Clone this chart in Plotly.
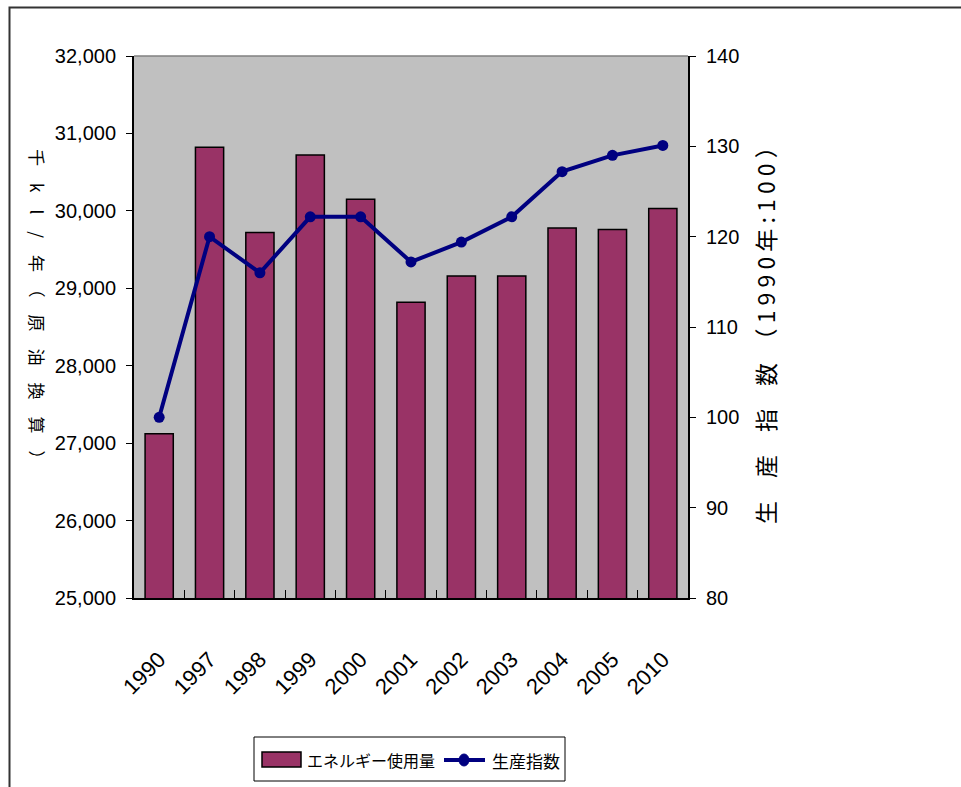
import plotly.graph_objects as go

years = ["1990", "1997", "1998", "1999", "2000", "2001", "2002", "2003", "2004", "2005", "2010"]
energy_use = [27120, 30820, 29720, 30720, 30150, 28820, 29160, 29160, 29780, 29760, 30030]
production_index = [100, 120, 116, 122.2, 122.2, 117.2, 119.4, 122.2, 127.2, 129, 130.1]

left_ticks = [25000, 26000, 27000, 28000, 29000, 30000, 31000, 32000]
right_ticks = [80, 90, 100, 110, 120, 130, 140]

FONT = "Liberation Sans Narrow, Arial Narrow, Liberation Sans, Noto Sans CJK JP, sans-serif"
CJK = "Noto Sans CJK JP, sans-serif"

W, H = 961, 787
L, R, T, B = 134, 688, 56, 598

BAR_COLOR = "#993366"
LINE_COLOR = "#000080"

fig = go.Figure()
fig.add_trace(go.Bar(
    x=years, y=energy_use, name="エネルギー使用量",
    marker=dict(color=BAR_COLOR, line=dict(color="#000000", width=1.5)),
    yaxis="y", showlegend=False,
))
fig.add_trace(go.Scatter(
    x=years, y=production_index, name="生産指数", mode="lines+markers",
    line=dict(color=LINE_COLOR, width=4),
    marker=dict(color=LINE_COLOR, size=11, symbol="circle"),
    yaxis="y2", showlegend=False,
))

pw = R - L
ph = B - T

def px(x):
    return (x - L) / pw

def py(y):
    return (B - y) / ph

fig.update_layout(
    width=W, height=H,
    margin=dict(l=L, r=W - R, t=T, b=H - B, pad=0),
    paper_bgcolor="white",
    plot_bgcolor="#C0C0C0",
    bargap=0.44,
    showlegend=False,
    xaxis=dict(
        type="category", range=[-0.5, len(years) - 0.5],
        tickangle=-45, tickson="boundaries",
        ticks="inside", ticklen=8, tickcolor="#000000",
        showline=True, linecolor="#000000", linewidth=2,
        showgrid=False, zeroline=False,
        tickfont=dict(family=FONT, size=22, color="#000000"),
        ticklabelstandoff=38,
    ),
    yaxis=dict(
        range=[25000, 32000], tickvals=left_ticks, tickformat=",",
        ticks="outside", ticklen=6, tickcolor="#000000",
        showline=True, linecolor="#000000", linewidth=2,
        showgrid=False, zeroline=False,
        tickfont=dict(family=FONT, size=20, color="#000000"),
        ticklabelstandoff=6,
    ),
    yaxis2=dict(
        range=[80, 140], tickvals=right_ticks, overlaying="y", side="right",
        ticks="outside", ticklen=6, tickcolor="#000000",
        showline=True, linecolor="#000000", linewidth=2,
        showgrid=False, zeroline=False,
        tickfont=dict(family=FONT, size=20, color="#000000"),
        ticklabelstandoff=6,
    ),
    font=dict(family=FONT, color="#000000"),
)

# top border of plot area (gray)
fig.add_shape(type="line", xref="paper", yref="paper", x0=0, x1=1, y0=1, y1=1,
              line=dict(color="#808080", width=1.5))
# outer chart frame (partially visible)
fig.add_shape(type="rect", xref="paper", yref="paper",
              x0=px(9.5), x1=px(975), y0=py(800), y1=py(7.5),
              line=dict(color="#333333", width=2), layer="below")

# axis titles
fig.add_annotation(
    text="千　k　l　/　年　（　原　油　換　算　）",
    xref="paper", yref="paper", x=px(38), y=py(308),
    xanchor="center", yanchor="middle",
    textangle=90, showarrow=False,
    font=dict(family=CJK, size=17, color="#000000"),
)
fig.add_annotation(
    text="生　産　指　数　（ 1 9 9 0 年 : 1 0 0 ）",
    xref="paper", yref="paper", x=px(765), y=py(330),
    xanchor="center", yanchor="middle",
    textangle=-90, showarrow=False,
    font=dict(family=CJK, size=23, color="#000000"),
)

# legend (drawn manually to match the reference swatches)
fig.add_shape(type="rect", xref="paper", yref="paper",
              x0=px(254), x1=px(565), y0=py(781), y1=py(737),
              line=dict(color="#000000", width=1), fillcolor="white")
fig.add_shape(type="rect", xref="paper", yref="paper",
              x0=px(262), x1=px(301), y0=py(767), y1=py(752),
              line=dict(color="#000000", width=1.5), fillcolor=BAR_COLOR)
fig.add_annotation(text="エネルギー使用量", xref="paper", yref="paper",
                   x=px(305), y=py(760), xanchor="left", yanchor="middle",
                   showarrow=False, font=dict(family=CJK, size=16, color="#000000"))
fig.add_shape(type="line", xref="paper", yref="paper",
              x0=px(444), x1=px(485), y0=py(760), y1=py(760),
              line=dict(color=LINE_COLOR, width=4))
fig.add_shape(type="circle", xref="paper", yref="paper",
              x0=px(459), x1=px(469), y0=py(766), y1=py(754),
              line=dict(color=LINE_COLOR, width=1), fillcolor=LINE_COLOR)
fig.add_annotation(text="生産指数", xref="paper", yref="paper",
                   x=px(490), y=py(760), xanchor="left", yanchor="middle",
                   showarrow=False, font=dict(family=CJK, size=17, color="#000000"))

fig.write_html("out.html")
